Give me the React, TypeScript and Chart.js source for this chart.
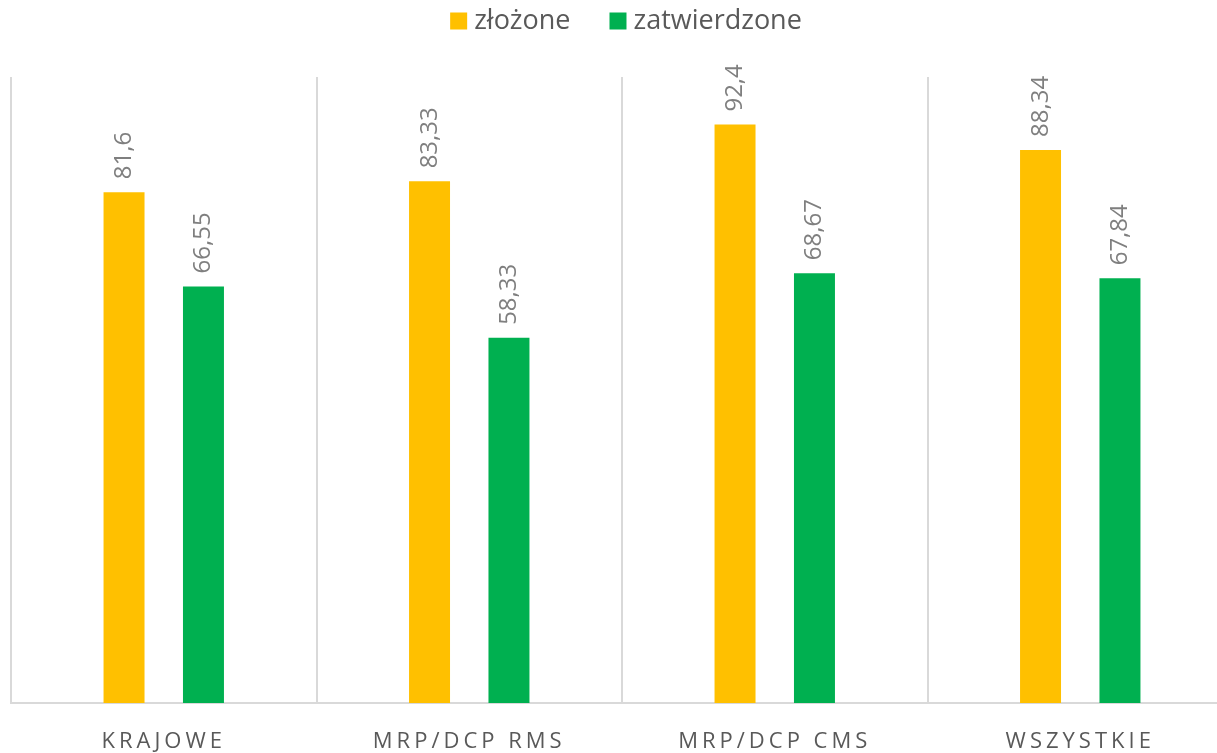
import React, { useEffect, useRef } from "react";
import { Chart, registerables } from "chart.js";

Chart.register(...registerables);

const categories = ["KRAJOWE", "MRP/DCP RMS", "MRP/DCP CMS", "WSZYSTKIE"];
const seriesNames = ["złożone", "zatwierdzone"];
const zlozone = [81.6, 83.33, 92.4, 88.34];
const zatwierdzone = [66.55, 58.33, 68.67, 67.84];
const yMin = 0;
const yMax = 100;

const COLORS = ["#FFC000", "#00B050"];
const FONT = "'Open Sans', sans-serif";
const TEXT = "#595959";
const GRID = "#D9D9D9";

const fmt = (v: number) => String(v).replace(".", ",");

const valueLabelsPlugin = {
  id: "valueLabels",
  afterDatasetsDraw(chart: any) {
    const ctx = chart.ctx;
    ctx.save();
    ctx.font = `24px ${FONT}`;
    ctx.fillStyle = "#7F7F7F";
    ctx.textAlign = "left";
    ctx.textBaseline = "alphabetic";
    chart.data.datasets.forEach((ds: any, di: number) => {
      const meta = chart.getDatasetMeta(di);
      meta.data.forEach((bar: any, i: number) => {
        ctx.save();
        ctx.translate(bar.x, bar.y - 13);
        ctx.rotate(-Math.PI / 2);
        ctx.fillText(fmt(ds.data[i]), 0, 7);
        ctx.restore();
      });
    });
    ctx.restore();
  },
};

const xLabelsPlugin = {
  id: "xLabels",
  afterDraw(chart: any) {
    const ctx = chart.ctx;
    const xs = chart.scales.x;
    ctx.save();
    ctx.font = `22px ${FONT}`;
    (ctx as any).letterSpacing = "4px";
    ctx.fillStyle = TEXT;
    ctx.textAlign = "center";
    ctx.textBaseline = "alphabetic";
    chart.data.labels.forEach((c: string, i: number) => {
      ctx.fillText(c, xs.getPixelForValue(i), chart.chartArea.bottom + 45);
    });
    ctx.restore();
  },
};

const legendPlugin = {
  id: "customLegend",
  afterDraw(chart: any) {
    const ctx = chart.ctx;
    ctx.save();
    ctx.font = `27px ${FONT}`;
    ctx.textBaseline = "middle";
    ctx.textAlign = "left";
    const box = 17;
    const gapText = 7;
    const gapItem = 39;
    const items = chart.data.datasets.map((ds: any) => ({
      text: ds.label,
      color: ds.backgroundColor,
      w: ctx.measureText(ds.label).width,
    }));
    const total =
      items.reduce((s: number, it: any) => s + box + gapText + it.w, 0) +
      gapItem * (items.length - 1);
    const center = (chart.chartArea.left + chart.chartArea.right) / 2 + 4;
    let x = center - total / 2;
    const cy = 21;
    items.forEach((it: any) => {
      ctx.fillStyle = it.color;
      ctx.fillRect(x, cy - box / 2, box, box);
      ctx.fillStyle = TEXT;
      ctx.fillText(it.text, x + box + gapText, cy);
      x += box + gapText + it.w + gapItem;
    });
    ctx.restore();
  },
};

export default function App() {
  const ref = useRef<HTMLCanvasElement | null>(null);

  useEffect(() => {
    if (!ref.current) return;
    const chart = new Chart(ref.current, {
      type: "bar",
      data: {
        labels: categories,
        datasets: [
          {
            label: seriesNames[0],
            data: zlozone,
            backgroundColor: COLORS[0],
            categoryPercentage: 0.52,
            barPercentage: 0.516,
          },
          {
            label: seriesNames[1],
            data: zatwierdzone,
            backgroundColor: COLORS[1],
            categoryPercentage: 0.52,
            barPercentage: 0.516,
          },
        ],
      },
      options: {
        responsive: false,
        animation: false,
        layout: { padding: { top: 77, left: 11, right: 12, bottom: 50 } },
        plugins: {
          legend: { display: false },
          tooltip: { enabled: false },
        },
        scales: {
          x: {
            display: true,
            grid: {
              display: true,
              offset: true,
              color: GRID,
              lineWidth: 2,
              drawTicks: false,
            },
            border: { display: true, color: GRID, width: 2 },
            ticks: { display: false },
          },
          y: {
            display: false,
            min: yMin,
            max: yMax,
          },
        },
      },
      plugins: [valueLabelsPlugin, xLabelsPlugin, legendPlugin],
    });
    return () => chart.destroy();
  }, []);

  return (
    <div
      style={{
        position: "fixed",
        left: 0,
        top: 0,
        width: 1217,
        height: 753,
        overflow: "hidden",
        background: "#fff",
      }}
    >
      <canvas ref={ref} width={1245} height={753} style={{ width: 1245, height: 753, display: "block" }} />
    </div>
  );
}
